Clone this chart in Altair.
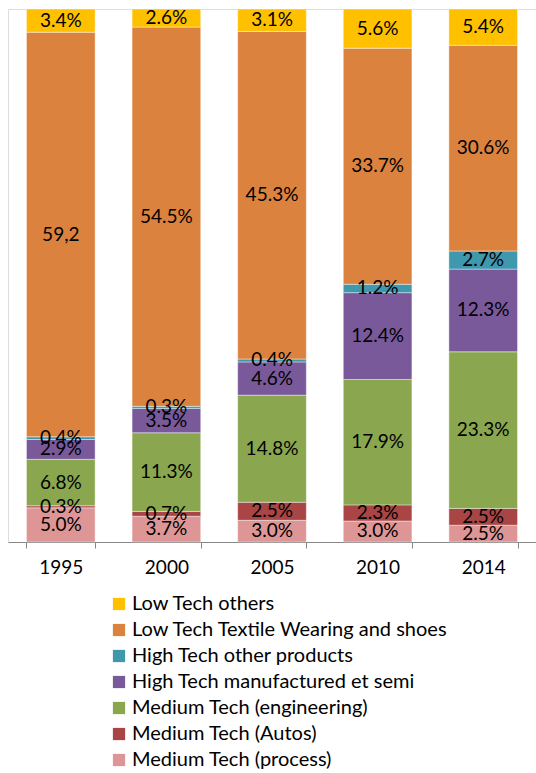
import altair as alt
import pandas as pd

years = ["1995", "2000", "2005", "2010", "2014"]
categories = [
    "Medium Tech (process)",
    "Medium Tech (Autos)",
    "Medium Tech (engineering)",
    "High Tech manufactured et semi",
    "High Tech other products",
    "Low Tech Textile Wearing and shoes",
    "Low Tech others",
]
colors = ["#DE9595", "#A94545", "#8AA74F", "#79599A", "#3F98AE", "#DC823F", "#FFC000"]

process = [5.0, 3.7, 3.0, 3.0, 2.5]
autos = [0.3, 0.7, 2.5, 2.3, 2.5]
engineering = [6.8, 11.3, 14.8, 17.9, 23.3]
ht_manuf = [2.9, 3.5, 4.6, 12.4, 12.3]
ht_other = [0.4, 0.3, 0.4, 1.2, 2.7]
textile = [59.2, 54.5, 45.3, 33.7, 30.6]
others = [3.4, 2.6, 3.1, 5.6, 5.4]

series = [process, autos, engineering, ht_manuf, ht_other, textile, others]

rows = []
for ci, (cat, vals) in enumerate(zip(categories, series)):
    for yi, (yr, v) in enumerate(zip(years, vals)):
        label = f"{v:.1f}%"
        if cat == "Low Tech Textile Wearing and shoes" and yr == "1995":
            label = "59,2"
        rows.append({"year": yr, "cat": cat, "value": v, "order": ci, "label": label})
df = pd.DataFrame(rows)

FONT = "Lato"

base = alt.Chart(df).transform_stack(
    stack="value", groupby=["year"], as_=["y0", "y1"], offset="normalize",
    sort=[alt.SortField("order", order="ascending")],
).transform_calculate(mid="(datum.y0 + datum.y1) / 2")

xenc = alt.X(
    "year:N",
    sort=years,
    title=None,
    scale=alt.Scale(paddingInner=0.35, paddingOuter=0.175),
    axis=alt.Axis(
        labelAngle=0, labelFontSize=19, labelFont=FONT, labelFontWeight="normal",
        labelColor="#000000",
        domainColor="#868686", tickColor="#868686", tickSize=6, tickBand="extent",
        labelPadding=10, domainWidth=1,
    ),
)

legend_order = list(reversed(categories))

bars = base.mark_bar(stroke="#ffffff", strokeWidth=0.6, strokeOpacity=0.7).encode(
    x=xenc,
    y=alt.Y("y0:Q", scale=alt.Scale(domain=[0, 1], nice=False), axis=None, title=None),
    y2="y1:Q",
    color=alt.Color(
        "cat:N",
        scale=alt.Scale(domain=categories, range=colors),
        sort=legend_order,
        legend=alt.Legend(
            title=None, orient="none", legendX=101, legendY=585, direction="vertical",
            symbolType="square", symbolSize=150, symbolStrokeWidth=0,
            labelFontSize=20, labelFont=FONT, labelColor="#000000", labelLimit=0,
            rowPadding=6, labelOffset=3, values=legend_order,
        ),
    ),
)

text = base.mark_text(fontSize=19, font=FONT, color="#000000", baseline="middle").encode(
    x=alt.X("year:N", sort=years),
    y=alt.Y("mid:Q"),
    text="label:N",
)

chart = (
    alt.layer(bars, text)
    .properties(width=528, height=533, padding={"left": 8, "top": 8, "right": 0, "bottom": 0})
    .configure_view(stroke=None)
    .configure(background="#ffffff")
)

chart.save("out.html", embed_options={"renderer": "svg", "actions": False})
